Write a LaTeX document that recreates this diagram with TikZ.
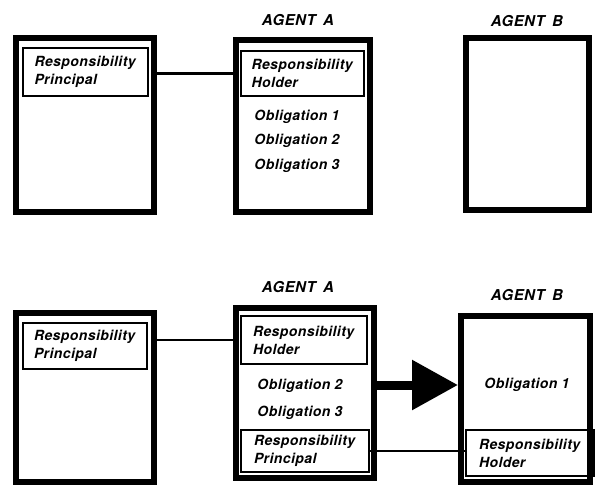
\documentclass[tikz,border=0pt]{standalone}
\usepackage{fontspec}
\setmainfont[LetterSpace=3]{TeX Gyre Heros}
\usetikzlibrary{arrows.meta}

\begin{document}
\begin{tikzpicture}[x=1pt, y=-1pt, font=\fontsize{14}{18}\selectfont\bfseries\itshape,
  agentbox/.style 2 args={draw, line width=6pt, minimum width=#1pt, minimum height=#2pt, inner sep=0pt},
  rolebox/.style 2 args={draw, line width=2.5pt, minimum width=#1pt, minimum height=#2pt,
    inner sep=0pt, text width=102pt, align=left},
  title/.style={inner sep=0pt, font=\fontsize{15}{18}\selectfont\bfseries\itshape},
  oblig/.style={inner sep=0pt},
  link/.style={line width=2.5pt},
  push/.style={line width=9pt, -{Triangle[length=46pt, width=48pt]}}]
  \useasboundingbox (0,0) rectangle (597,487);

  % top row: before the hand-over
  \node[agentbox={138}{174}] (agL1) at (85,125) {};
  \node[agentbox={134}{171.5}] (agA1) at (303,126.25) {};
  \node[agentbox={123}{172}] (agB1) at (527.5,124) {};
  \node[title] (ttA1) at (298,20) {AGENT\enspace A};
  \node[title] (ttB1) at (527,21) {AGENT\enspace B};

  \node[rolebox={125}{48}] (prinL1) at (85.5,72) {Responsibility\\Principal};
  \node[rolebox={123}{45}] (holdA1) at (302.5,73.5) {Responsibility\\Holder};
  \foreach \k/\y in {1/117, 2/141, 3/166} {
    \node[oblig] (ob\k A1) at (297,\y) {Obligation \k};
  }
  \draw[link] (holdA1 -| agL1.east) -- (holdA1 -| agA1.west);

  % bottom row: obligation 1 passed on to agent B
  \node[agentbox={138}{169}] (agL2) at (85,397.5) {};
  \node[agentbox={138}{170}] (agA2) at (305,393) {};
  \node[agentbox={129}{166}] (agB2) at (525.5,399) {};
  \node[title] (ttA2) at (298,287) {AGENT\enspace A};
  \node[title] (ttB2) at (527,295) {AGENT\enspace B};

  \node[rolebox={124}{46}] (prinL2) at (85,346) {Responsibility\\Principal};
  \node[rolebox={126}{48}] (holdA2) at (304,340) {Responsibility\\Holder};
  \foreach \k/\y in {2/386, 3/413} {
    \node[oblig] (ob\k A2) at (300,\y) {Obligation \k};
  }
  \node[rolebox={128}{42}] (prinA2) at (305,451) {Responsibility\\Principal};
  \node[oblig] (ob1B2) at (527,385) {Obligation 1};
  \node[rolebox={128}{46}] (holdB2) at (530,453) {Responsibility\\Holder};

  \draw[link] (holdA2 -| agL2.east) -- (holdA2 -| agA2.west);
  \draw[push] (ob1B2 -| agA2.east) -- (ob1B2 -| agB2.west);
  \draw[link] (prinA2.east) -- (prinA2.east -| holdB2.west);
\end{tikzpicture}
\end{document}
